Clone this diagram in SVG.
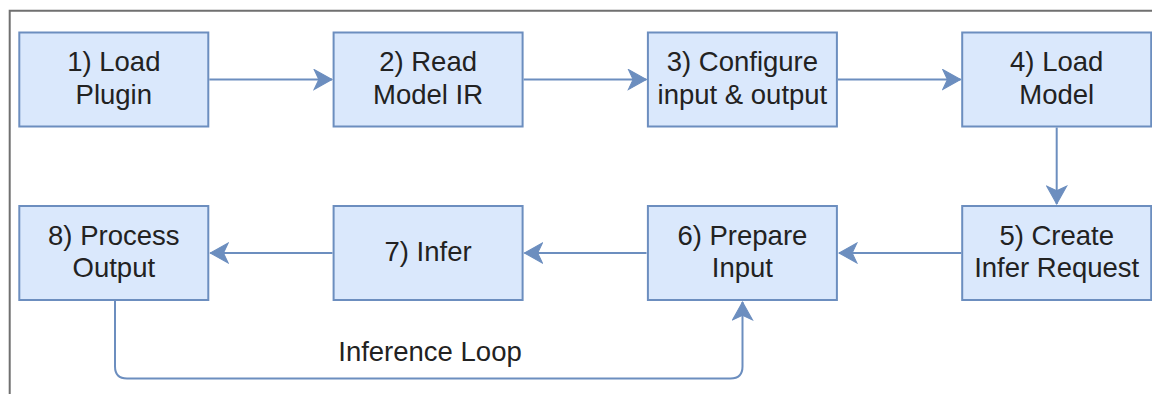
<svg xmlns="http://www.w3.org/2000/svg" width="1152" height="394" viewBox="0 0 1152 394">
<style>
.box{fill:#dae8fc;stroke:#6c8ebf;stroke-width:2}
.lbl{font-family:"Liberation Sans",Arial,Helvetica,sans-serif;font-size:27.5px;fill:#222;text-anchor:middle}
.edge{fill:none;stroke:#6c8ebf;stroke-width:2}
</style>
<defs>
<marker id="arr" markerUnits="userSpaceOnUse" markerWidth="20" markerHeight="22" viewBox="-18 -10 19 20" refX="0" refY="0" orient="auto">
<path d="M0,0 L-17,-9.5 L-12.5,0 L-17,9.5 Z" fill="#6c8ebf" stroke="#6c8ebf" stroke-width="1"/>
</marker>
</defs>
<rect width="1152" height="394" fill="#fff"/>
<path d="M9.7,394 V10.8 H1152" fill="none" stroke="#707070" stroke-width="2"/>
<g id="connectors">
<path class="edge" d="M209.3,79.5 H332" marker-end="url(#arr)"/>
<path class="edge" d="M523.6,79.5 H646.3" marker-end="url(#arr)"/>
<path class="edge" d="M837.9,79.5 H960.6" marker-end="url(#arr)"/>
<path class="edge" d="M1056.7,127.5 V204" marker-end="url(#arr)"/>
<path class="edge" d="M961.2,253 H839" marker-end="url(#arr)"/>
<path class="edge" d="M646.5,253 H524.5" marker-end="url(#arr)"/>
<path class="edge" d="M332.5,253 H210.3" marker-end="url(#arr)"/>
<path class="edge" d="M115,301 V366.5 Q115,378.5 127,378.5 H730.5 Q742.5,378.5 742.5,366.5 V302" marker-end="url(#arr)"/>
<text class="lbl" x="430" y="360.5">Inference Loop</text>
</g>
<g id="n1"><rect class="box" x="19.3" y="32.5" width="189" height="94"/><text class="lbl" x="113.8" y="71">1) Load</text><text class="lbl" x="113.8" y="103.5">Plugin</text></g>
<g id="n2"><rect class="box" x="333.6" y="32.5" width="189" height="94"/><text class="lbl" x="428.1" y="71">2) Read</text><text class="lbl" x="428.1" y="103.5">Model IR</text></g>
<g id="n3"><rect class="box" x="647.9" y="32.5" width="189" height="94"/><text class="lbl" x="742.4" y="71">3) Configure</text><text class="lbl" x="742.4" y="103.5">input &amp; output</text></g>
<g id="n4"><rect class="box" x="962.2" y="32.5" width="189" height="94"/><text class="lbl" x="1056.7" y="71">4) Load</text><text class="lbl" x="1056.7" y="103.5">Model</text></g>
<g id="n5"><rect class="box" x="962.2" y="206" width="189" height="94"/><text class="lbl" x="1056.7" y="245">5) Create</text><text class="lbl" x="1056.7" y="277">Infer Request</text></g>
<g id="n6"><rect class="box" x="647.9" y="206" width="189" height="94"/><text class="lbl" x="742.4" y="245">6) Prepare</text><text class="lbl" x="742.4" y="277">Input</text></g>
<g id="n7"><rect class="box" x="333.6" y="206" width="189" height="94"/><text class="lbl" x="428.1" y="261">7) Infer</text></g>
<g id="n8"><rect class="box" x="19.3" y="206" width="189" height="94"/><text class="lbl" x="113.8" y="245">8) Process</text><text class="lbl" x="113.8" y="277">Output</text></g>
</svg>
